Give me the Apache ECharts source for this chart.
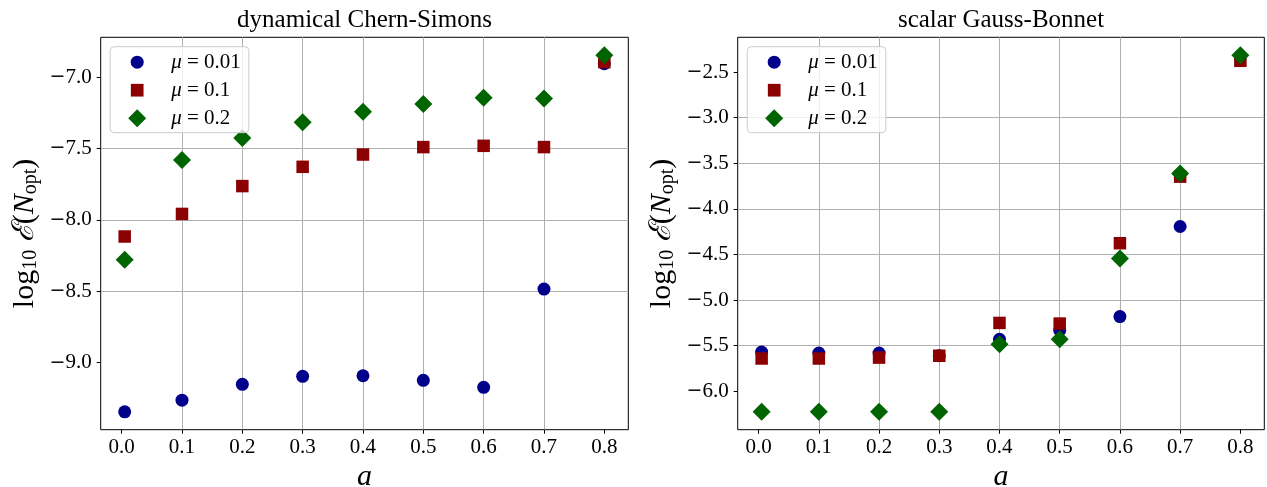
<!DOCTYPE html>
<html><head><meta charset="utf-8">
<script src="https://cdn.jsdelivr.net/npm/echarts@6/dist/echarts.min.js"></script>
<style>html,body{margin:0;padding:0;background:#fff}#c{width:1267px;height:487px}</style>
</head><body><div id="c"></div><script>
// ---- data ----
const aValues = [0.005, 0.1, 0.2, 0.3, 0.4, 0.5, 0.6, 0.7, 0.8];
const seriesNames = ['μ = 0.01', 'μ = 0.1', 'μ = 0.2'];
const csMu001 = [-9.344, -9.262, -9.151, -9.095, -9.091, -9.123, -9.172, -8.484, -6.906];
const csMu01  = [-8.116, -7.958, -7.763, -7.628, -7.542, -7.490, -7.481, -7.490, -6.895];
const csMu02  = [-8.279, -7.581, -7.426, -7.316, -7.242, -7.188, -7.144, -7.149, -6.846];
const gbMu001 = [-5.57, -5.58, -5.58, -5.61, -5.43, -5.33, -5.18, -4.193, -2.33];
const gbMu01  = [-5.64, -5.64, -5.63, -5.61, -5.25, -5.257, -4.376, -3.646, -2.376];
const gbMu02  = [-6.225, -6.225, -6.225, -6.225, -5.485, -5.43, -4.544, -3.613, -2.314];
const aTicks = [0.0, 0.1, 0.2, 0.3, 0.4, 0.5, 0.6, 0.7, 0.8];
const csTicks = [-9.0, -8.5, -8.0, -7.5, -7.0];
const gbTicks = [-6.0, -5.5, -5.0, -4.5, -4.0, -3.5, -3.0, -2.5];
const titles = ['dynamical Chern-Simons', 'scalar Gauss-Bonnet'];

// ---- style ----
const SERIF = '"Liberation Serif", "DejaVu Serif", serif';
const COLORS = ['#00008b', '#8b0000', '#006400'];
const SYMBOLS = ['circle', 'rect', 'diamond'];
const SIZES = [13, 12.5, 18];
// legend icons drawn inside an 18x18 box (the two moveTo points fix the box)
const LEGEND_ICONS = [
  'path://M0 0M18 18M2.5 9A6.5 6.5 0 1 1 15.5 9A6.5 6.5 0 1 1 2.5 9Z',
  'path://M0 0M18 18M2.65 2.65L15.35 2.65L15.35 15.35L2.65 15.35Z',
  'path://M0 0M18 18M9 0L18 9L9 18L0 9Z'
];

function padRange(arrs, frac) {
  let lo = Infinity, hi = -Infinity;
  arrs.forEach(a => a.forEach(v => { lo = Math.min(lo, v); hi = Math.max(hi, v); }));
  const p = (hi - lo) * frac;
  return [lo - p, hi + p];
}
const xr = padRange([aValues], 0.05);
const csR = padRange([csMu001, csMu01, csMu02], 0.05);
const gbR = padRange([gbMu001, gbMu01, gbMu02], 0.05);

const fmt = v => (v < 0 ? '{m|\u2212}' : '') + '{n|' + Math.abs(v).toFixed(1) + '}';
const labelRich = {
  m: {fontFamily: '"DejaVu Serif", serif', fontSize: 19, color: '#000'},
  n: {fontFamily: SERIF, fontSize: 21, color: '#000'}
};

const grids = [
  {left: 100.7, top: 37.3, width: 527.6, height: 392.4},
  {left: 737.7, top: 37.3, width: 526.6, height: 392.4}
];

function xAxisFor(gi) {
  return {
    type: 'value', gridIndex: gi, min: xr[0], max: xr[1], splitNumber: 9,
    name: '{i|a}', nameLocation: 'middle', nameGap: 29,
    nameTextStyle: {rich: {i: {fontFamily: SERIF, fontStyle: 'italic', fontSize: 30, color: '#000'}}},
    axisLine: {show: false, onZero: false},
    axisTick: {show: true, inside: false, length: 4, customValues: aTicks, lineStyle: {color: '#000', width: 1}},
    axisLabel: {customValues: aTicks, formatter: fmt, margin: 7, fontFamily: SERIF, fontSize: 21, color: '#000', rich: labelRich},
    splitLine: {show: true, showMinLine: false, showMaxLine: false, lineStyle: {color: '#b0b0b0', width: 1}}
  };
}
function yAxisFor(gi, r, ticks, split) {
  return {
    type: 'value', gridIndex: gi, min: r[0], max: r[1], splitNumber: split,
    name: '{r|log}{s|10}{r| }{e|ℰ}{r|(}{i|N}{s|opt}{r|)}',
    nameLocation: 'middle', nameRotate: 90, nameGap: 60,
    nameTextStyle: {rich: {
      r: {fontFamily: SERIF, fontSize: 30, lineHeight: 32, color: '#000'},
      e: {fontFamily: SERIF, fontStyle: 'italic', fontSize: 30, lineHeight: 32, color: '#000'},
      i: {fontFamily: SERIF, fontStyle: 'italic', fontSize: 30, lineHeight: 32, color: '#000'},
      s: {fontFamily: SERIF, fontSize: 20, lineHeight: 14, verticalAlign: 'bottom', color: '#000'}
    }},
    axisLine: {show: false, onZero: false},
    axisTick: {show: true, inside: false, length: 4, customValues: ticks, lineStyle: {color: '#000', width: 1}},
    axisLabel: {customValues: ticks, formatter: fmt, margin: 9, fontFamily: SERIF, fontSize: 21, color: '#000', rich: labelRich},
    splitLine: {show: true, showMinLine: false, showMaxLine: false, lineStyle: {color: '#b0b0b0', width: 1}}
  };
}

function mkSeries(gi, arrs) {
  return arrs.map((vals, k) => ({
    type: 'scatter', name: seriesNames[k], xAxisIndex: gi, yAxisIndex: gi,
    symbol: SYMBOLS[k], symbolSize: SIZES[k],
    itemStyle: {color: COLORS[k], opacity: 1},
    data: aValues.map((a, i) => [a, vals[i]])
  }));
}

function legendFor(gi) {
  return {
    orient: 'vertical', left: grids[gi].left + 9.5, top: 46.7,
    data: seriesNames.map((n, k) => ({name: n, icon: LEGEND_ICONS[k]})),
    itemWidth: 18, itemHeight: 18, itemGap: 7,
    padding: [5, 8, 4, 18],
    backgroundColor: 'rgba(255,255,255,0.8)', borderColor: '#cccccc', borderWidth: 1, borderRadius: 4,
    selectedMode: false,
    formatter: n => '{i|μ}{t| = ' + n.split('= ')[1] + '}',
    textStyle: {fontFamily: SERIF, fontSize: 21, lineHeight: 20, color: '#000', padding: [0, 0, 0, 20],
      rich: {i: {fontFamily: SERIF, fontStyle: 'italic', fontSize: 21, color: '#000'},
             t: {fontFamily: SERIF, fontSize: 21, color: '#000'}}}
  };
}

const option = {
  animation: false,
  backgroundColor: '#fff',
  title: titles.map((t, gi) => ({
    text: t, left: grids[gi].left + grids[gi].width / 2, top: 8, textAlign: 'center', padding: 0,
    textStyle: {fontFamily: SERIF, fontSize: 25, fontWeight: 'normal', color: '#000'}
  })),
  grid: grids.map(g => Object.assign({show: true, borderColor: '#000', borderWidth: 1,
    backgroundColor: 'transparent', containLabel: false, outerBoundsMode: 'none'}, g)),
  legend: [legendFor(0), legendFor(1)],
  xAxis: [xAxisFor(0), xAxisFor(1)],
  yAxis: [yAxisFor(0, csR, csTicks, 5), yAxisFor(1, gbR, gbTicks, 8)],
  series: [].concat(mkSeries(0, [csMu001, csMu01, csMu02]), mkSeries(1, [gbMu001, gbMu01, gbMu02]))
};
const chart = echarts.init(document.getElementById('c'), null, {renderer: 'canvas'});
chart.setOption(option);
</script></body></html>
